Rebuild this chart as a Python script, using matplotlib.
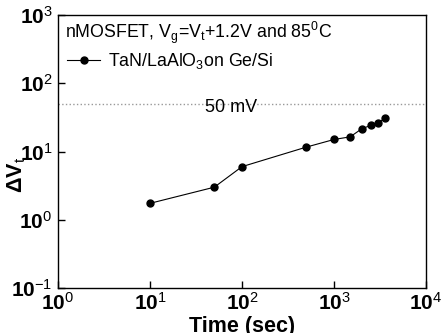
import math
import matplotlib
matplotlib.use("Agg")
import matplotlib.pyplot as plt
from matplotlib.ticker import FixedLocator, FuncFormatter, NullLocator

plt.rcParams['font.family'] = ['Liberation Sans', 'DejaVu Sans']
plt.rcParams['mathtext.fontset'] = 'custom'
plt.rcParams['mathtext.rm'] = 'Liberation Sans'
plt.rcParams['mathtext.it'] = 'Liberation Sans'
plt.rcParams['mathtext.bf'] = 'Liberation Sans:bold'
plt.rcParams['axes.unicode_minus'] = False

time_sec = [10, 50, 100, 500, 1000, 1500, 2000, 2500, 3000, 3600]
delta_vt = [1.74, 3.0, 6.0, 11.6, 15.0, 16.4, 21.5, 24.1, 26.4, 30.5]
ref_level = 50
ref_label = '50 mV'
series_label = r'TaN/LaAlO$_{\mathrm{3}}$on Ge/Si'
header = r'nMOSFET, V$_{\mathrm{g}}$=V$_{\mathrm{t}}$+1.2V and 85$^{\mathrm{0}}$C'
x_decades = [0, 1, 2, 3, 4]
y_decades = [-1, 0, 1, 2, 3]

fig = plt.figure(figsize=(4.43, 3.33), dpi=100)
ax = fig.add_axes([58/443, 1-288/333, (426-58)/443, (288-15)/333])

ax.plot(time_sec, delta_vt, '-', color='black', lw=0.8, marker='o', ms=5,
        label=series_label)
ax.axhline(ref_level, color='#999999', ls=':', lw=1.0)
ax.text(0.47, 0.663, ref_label, transform=ax.transAxes, ha='center', va='center', fontsize=13)

ax.set_xscale('log')
ax.set_yscale('log')
ax.set_xlim(1, 1e4)
ax.set_ylim(0.1, 1e3)
ax.xaxis.set_major_locator(FixedLocator([10**d for d in x_decades]))
ax.yaxis.set_major_locator(FixedLocator([10**d for d in y_decades]))
ax.xaxis.set_minor_locator(NullLocator())
ax.yaxis.set_minor_locator(NullLocator())
fmt = FuncFormatter(lambda v, p: r'$\mathbf{10}^{\mathrm{%d}}$' % round(math.log10(v)))
ax.xaxis.set_major_formatter(fmt)
ax.yaxis.set_major_formatter(fmt)
ax.tick_params(direction='in', length=5, width=1, labelsize=15, top=False, right=False)
ax.tick_params(axis='x', pad=3)
ax.tick_params(axis='y', pad=4)
for s in ax.spines.values():
    s.set_linewidth(1.0)

fig.text(242/443, 1-316/333, 'Time (sec)', ha='center', va='top', fontsize=15.5, fontweight='bold')
fig.text(17/443, 1-175/333, r'$\mathbf{\Delta V}_{\mathrm{t}}$', ha='center', va='center',
         rotation=90, fontsize=15.5)

ax.text(0.018, 0.935, header, transform=ax.transAxes, ha='left', va='center', fontsize=12.8)
ax.legend(loc='center left', bbox_to_anchor=(-0.02, 0.83), frameon=False, fontsize=12.8,
          handlelength=1.9, handletextpad=0.4)

fig.savefig('out.png', dpi=100)
